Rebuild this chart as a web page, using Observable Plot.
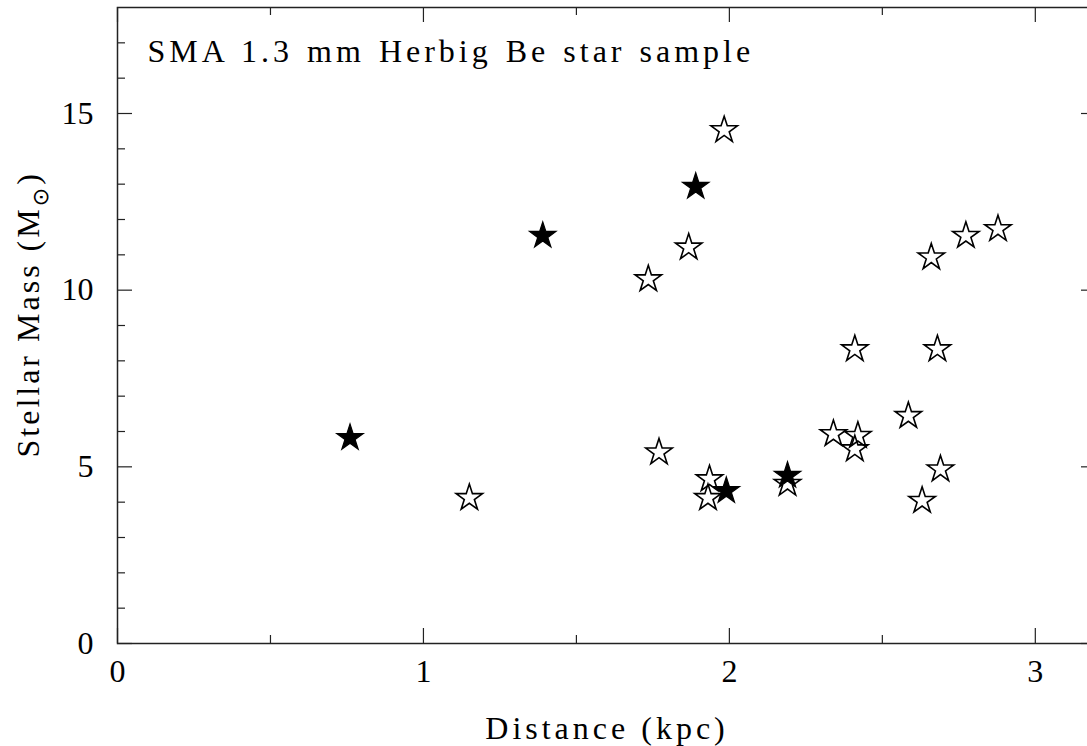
<!DOCTYPE html>
<html><head><meta charset="utf-8">
<script src="https://cdn.jsdelivr.net/npm/d3@7"></script>
<script src="https://cdn.jsdelivr.net/npm/@observablehq/plot@0.6"></script>
<style>html,body{margin:0;padding:0;overflow:hidden;background:#fff} #chart svg{max-width:none !important;height:746px !important;display:block}</style>
</head><body><div id="chart"></div>
<script>
// Filled stars
const filledDistance = [0.76, 1.39, 1.89, 1.99, 2.19];
const filledMass     = [5.82, 11.54, 12.93, 4.32, 4.75];
// Open stars
const openDistance = [1.15, 1.77, 1.735, 1.867, 1.983, 2.66, 2.773, 2.878, 2.41, 2.68, 1.935, 1.93, 2.19, 2.34, 2.42, 2.41, 2.585, 2.69, 2.63];
const openMass     = [4.12, 5.41, 10.31, 11.21, 14.53, 10.93, 11.54, 11.73, 8.33, 8.33, 4.65, 4.12, 4.52, 5.93, 5.88, 5.5, 6.44, 4.93, 4.04];

const xMajor = [0, 1, 2, 3];
const xMinor = [0.5, 1.5, 2.5];
const yMajor = [0, 5, 10, 15];
const yMinor = [1, 2, 3, 4, 6, 7, 8, 9, 11, 12, 13, 14, 16, 17];

const titleText = "SMA 1.3 mm Herbig Be star sample";
const xLabelText = "Distance (kpc)";
const yLabelText = "Stellar Mass (M⊙)";

const filled = filledDistance.map((d, i) => ({d, m: filledMass[i]}));
const open = openDistance.map((d, i) => ({d, m: openMass[i]}));

const W = 1100, H = 746, mL = 117, mR = 4, mT = 7, mB = 103;
const innerW = W - mL - mR, innerH = H - mT - mB;
const ink = "#222";

const chart = Plot.plot({
  width: W, height: H,
  marginLeft: mL, marginRight: mR, marginTop: mT, marginBottom: mB,
  x: {domain: [0, 3.2], axis: null},
  y: {domain: [0, 18], axis: null},
  style: {fontFamily: "'Liberation Serif', serif", fontSize: "32px", background: "white", color: "black", maxWidth: "none"},
  marks: [
    Plot.frame({stroke: ink, strokeWidth: 1.5}),
    // bottom & top ticks
    Plot.ruleX(xMajor, {x: d => d, insetTop: innerH - 15, stroke: ink, strokeWidth: 1.2}),
    Plot.ruleX(xMajor, {x: d => d, insetBottom: innerH - 15, stroke: ink, strokeWidth: 1.2}),
    Plot.ruleX(xMinor, {x: d => d, insetTop: innerH - 8, stroke: ink, strokeWidth: 1.2}),
    Plot.ruleX(xMinor, {x: d => d, insetBottom: innerH - 8, stroke: ink, strokeWidth: 1.2}),
    // left & right ticks
    Plot.ruleY(yMajor, {y: d => d, insetRight: innerW - 15, stroke: ink, strokeWidth: 1.2}),
    Plot.ruleY(yMajor, {y: d => d, insetLeft: innerW - 15, stroke: ink, strokeWidth: 1.2}),
    Plot.ruleY(yMinor, {y: d => d, insetRight: innerW - 8, stroke: ink, strokeWidth: 1.2}),
    Plot.ruleY(yMinor, {y: d => d, insetLeft: innerW - 8, stroke: ink, strokeWidth: 1.2}),
    Plot.axisX(xMajor, {anchor: "bottom", tickSize: 0, tickPadding: 16, fontSize: 32, label: null, tickFormat: d => String(d)}),
    Plot.axisY(yMajor, {anchor: "left", tickSize: 0, tickPadding: 24, fontSize: 32, label: null, tickFormat: d => String(d)}),
    Plot.dot(open, {x: "d", y: "m", symbol: "star", r: 8.3, fill: "none", stroke: "black", strokeWidth: 1.6}),
    Plot.dot(filled, {x: "d", y: "m", symbol: "star", r: 8.3, fill: "black", stroke: "black", strokeWidth: 1.2}),
    Plot.text([titleText], {text: d => d, frameAnchor: "top-left", textAnchor: "start", lineAnchor: "bottom", dx: 30, dy: 54, fontSize: 32}),
    Plot.text([xLabelText], {text: d => d, frameAnchor: "bottom", lineAnchor: "bottom", dy: 95, fontSize: 32}),
    Plot.text([yLabelText], {text: d => d, frameAnchor: "left", rotate: -90, textAnchor: "start", lineAnchor: "bottom", dx: -79, dy: 132, fontSize: 32})
  ]
});

document.getElementById("chart").append(chart);

chart.querySelectorAll("text").forEach(t => {
  const s = t.textContent;
  if (s === titleText) {
    t.style.letterSpacing = "4px";
    t.style.wordSpacing = "2px";
  } else if (s === xLabelText) {
    t.style.letterSpacing = "4px";
  } else if (s === yLabelText) {
    t.style.letterSpacing = "3px";
    t.textContent = "";
    const ns = "http://www.w3.org/2000/svg";
    const a = document.createElementNS(ns, "tspan");
    a.textContent = "Stellar Mass (M";
    const b = document.createElementNS(ns, "tspan");
    b.textContent = "⊙";
    b.setAttribute("dy", "9");
    b.setAttribute("font-size", "22");
    b.setAttribute("font-family", "'DejaVu Sans', sans-serif");
    const c = document.createElementNS(ns, "tspan");
    c.textContent = ")";
    c.setAttribute("dy", "-9");
    t.append(a, b, c);
  }
});
</script>
</body></html>
